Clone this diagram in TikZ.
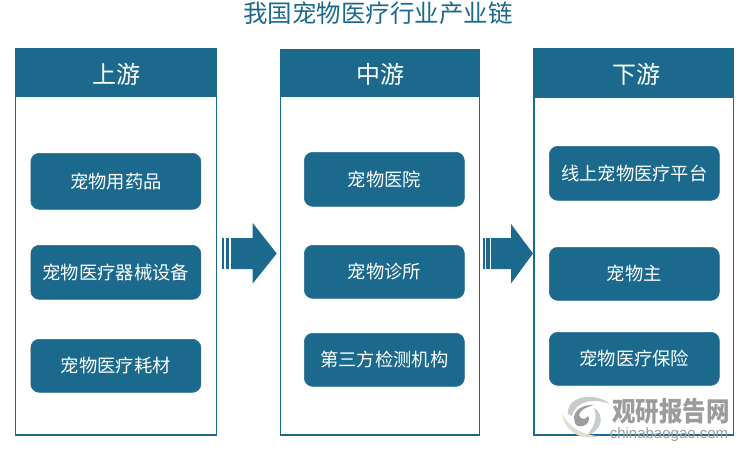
\documentclass[tikz,border=0pt]{standalone}
\usepackage{fontspec}
\setmainfont{Noto Sans CJK SC}
\newfontfamily\latinsans{Liberation Sans}
\definecolor{teal1}{HTML}{1B6A8E}
\definecolor{edge1}{HTML}{2A6D93}
\definecolor{wm}{HTML}{9C9C9C}
\definecolor{wmlight}{HTML}{C6CBCB}
\definecolor{wmbeige}{HTML}{E2DFD2}
\tikzset{
  panel/.style={draw=teal1,line width=1.6pt,fill=white},
  head/.style={fill=teal1,text=white,font=\fontsize{24}{24}\selectfont,inner sep=0pt},
  item/.style={draw=edge1,line width=.7pt,fill=teal1,rounded corners=8.5pt,text=white,font=\fontsize{18.3}{19}\selectfont,inner sep=0pt},
  flow/.style={fill=teal1,draw=none}
}
\newcommand{\pbox}[6]{\node[item,minimum width=#3pt,minimum height=#4pt,anchor=north west] (#1) at (#2,#5) {#6};}
\begin{document}
\begin{tikzpicture}[x=1pt,y=-1pt]
\useasboundingbox (0,0) rectangle (750,450);
\node[text=teal1,font=\fontsize{24.5}{25}\selectfont,inner sep=0pt] (title) at (378,13) {我国宠物医疗行业产业链};
% panels
\draw[panel] (15.5,48.5) rectangle (216.5,435);
\draw[panel] (280.5,49.5) rectangle (479.5,435);
\draw[panel] (534,48.5) rectangle (733.5,435);
\node[head,minimum width=201pt,minimum height=49pt,anchor=north west] at (15,48) {};
\node[head,minimum width=200pt,minimum height=48pt,anchor=north west] at (280,49) {};
\node[head,minimum width=200pt,minimum height=50pt,anchor=north west] at (534,48) {};
\node[head] (h1) at (116,74) {上游};
\node[head] (h2) at (380,74) {中游};
\node[head] (h3) at (636,74.5) {下游};
% items
\pbox{a1}{30.5}{170}{56}{153}{宠物用药品}
\pbox{a2}{30.5}{170}{54}{245}{宠物医疗器械设备}
\pbox{a3}{30.5}{170}{53}{339}{宠物医疗耗材}
\pbox{b1}{304}{160}{54}{152}{宠物医院}
\pbox{b2}{304}{160}{53}{245}{宠物诊所}
\pbox{b3}{304}{160}{53}{333}{第三方检测机构}
\pbox{c1}{549}{170}{54}{146}{线上宠物医疗平台}
\pbox{c2}{549}{170}{53}{247}{宠物主}
\pbox{c3}{549}{170}{53}{332}{宠物医疗保险}
% arrows
\fill[flow] (222.3,238) rectangle (224.3,269);
\fill[flow] (225.7,238) rectangle (229.3,269);
\fill[flow] (231,238) -- (252.7,238) -- (252.7,223) -- (276.7,253.5) -- (252.7,283.5) -- (252.7,269) -- (231,269) -- cycle;
\fill[flow] (482.7,238) rectangle (484.7,269);
\fill[flow] (486,238) rectangle (489.6,269);
\fill[flow] (491,238) -- (511,238) -- (511,224) -- (533,253.5) -- (511,283.5) -- (511,269) -- (491,269) -- cycle;
% watermark
\fill[wmlight] (568,414) .. controls (566,398) and (592,390) .. (610,404) .. controls (594,398) and (576,400) .. (572,416) -- cycle;
\fill[wmbeige] (562,414) .. controls (564,430) and (580,442) .. (600,436) .. controls (584,436) and (570,428) .. (562,414) -- cycle;
\fill[wmlight] (594,408) .. controls (604,414) and (604,430) .. (586,436) .. controls (594,428) and (598,418) .. (594,408) -- cycle;
\fill[wm] (574,418) .. controls (574,410) and (584,404) .. (594,405) .. controls (586,407) and (580,410) .. (579,415) .. controls (580,420) and (586,420) .. (588,416) .. controls (592,422) and (584,428) .. (578,426) .. controls (575,425) and (574,421) .. (574,418) -- cycle;
\node[text=wm,font=\fontsize{23.5}{24}\selectfont\bfseries,inner sep=0pt,yscale=1.15] (wm1) at (671,411) {观研报告网};
\node[text=wm,font=\fontsize{15}{15}\latinsans,inner sep=0pt] (wm2) at (669,435) {chinabaogao.com};
\end{tikzpicture}
\end{document}
